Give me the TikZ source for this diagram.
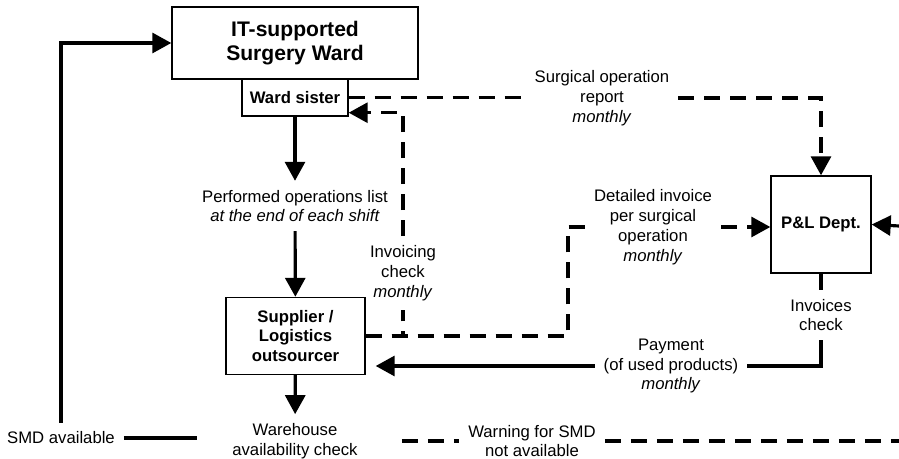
\documentclass[tikz,border=0pt]{standalone}
\usepackage{fontspec}
\setmainfont{Liberation Sans}
\usetikzlibrary{arrows.meta, positioning}

\begin{document}
\begin{tikzpicture}[>={Triangle[length=0.38cm,width=0.4cm]},
    box/.style={draw, line width=0.8pt, align=center, font=\fontsize{9.5}{11.3}\selectfont\bfseries},
    lbl/.style={align=center, inner sep=5pt, font=\fontsize{9.5}{11.3}\selectfont},
    flow/.style={line width=1.8pt},
    dflow/.style={line width=1.8pt, dash pattern=on 0.32cm off 0.2cm}]
    \useasboundingbox (0,0) rectangle (17.98,9.18);

    % boxes
    \node[box, minimum width=4.92cm, minimum height=1.44cm, font=\fontsize{12}{13.6}\selectfont\bfseries] (ward) at (5.9,8.32) {IT-supported\\Surgery Ward};
    \node[box, minimum width=2.12cm, minimum height=0.74cm] (ws) at (5.9,7.23) {Ward sister};
    \node[box, minimum width=2.78cm, minimum height=1.54cm] (sup) at (5.91,2.46) {Supplier /\\Logistics\\outsourcer};
    \node[box, minimum width=2.0cm, minimum height=1.94cm] (pl) at (16.42,4.69) {P\&L Dept.};

    % labels
    \node[lbl] (ops)  at (5.9,5.06)   {Performed operations list\\\textit{at the end of each shift}};
    \node[lbl] (wh)   at (5.9,0.36)   {Warehouse\\availability check};
    \node[lbl] (smd)  at (1.22,0.42)  {SMD available};
    \node[lbl] (rep)  at (12.04,7.22) {Surgical operation\\report\\\textit{monthly}};
    \node[lbl] (inv)  at (8.06,3.72)  {Invoicing\\check\\\textit{monthly}};
    \node[lbl] (det)  at (13.06,4.64) {Detailed invoice\\per surgical\\operation\\\textit{monthly}};
    \node[lbl] (ichk) at (16.42,2.88) {Invoices\\check};
    \node[lbl] (pay)  at (13.42,1.86) {Payment\\(of used products)\\\textit{monthly}};
    \node[lbl] (warn) at (10.64,0.36) {Warning for SMD\\not available};

    % free ends
    \coordinate (dc) at (11.36,4.64);
    \coordinate (eb) at (17.98,0.36);
    \coordinate (er) at (17.98,4.66);

    % solid flows
    \draw[flow,->] (ws) -- (ops);
    \draw[flow,->] (ops) -- (sup);
    \draw[flow,->] (sup) -- (wh);
    \draw[flow, shorten >=0.52cm] (smd.east) -- (smd.east -| wh.west);
    \draw[flow,->] (smd.north) |- (ward.west);
    \draw[flow] (pl.south) -- (ichk.north);
    \draw[flow] (ichk.south) |- (pay.east);
    \draw[flow,->, shorten >=0.2cm] (pay.west) -- (pay.west -| sup.east);

    % dashed flows
    \draw[dflow] (ws.east) -- (ws.east -| rep.west);
    \draw[dflow,->] (rep.east) -| (pl.north);
    \draw[dflow] (sup.east) -- (sup.east -| inv.south) -- (inv.south);
    \draw[dflow,->] (inv.north) |- ([yshift=0.08cm]ws.south east);
    \draw[dflow] (sup.east) -| (dc) -- (det.west);
    \draw[dflow,->] (det.east) -- (det.east -| pl.west);
    \draw[dflow,->] (er) -- (pl.east);
    \draw[dflow, shorten <=0.7cm] (wh.east) -- (warn.west);
    \draw[dflow] (warn.east) -- (eb);
\end{tikzpicture}
\end{document}
